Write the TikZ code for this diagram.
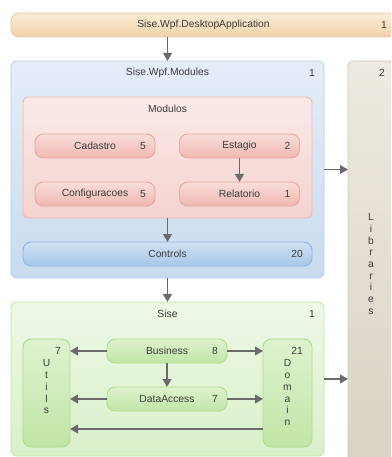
\documentclass[tikz,border=0pt]{standalone}
\usepackage{fontspec}
\setmainfont{Liberation Sans}
\usepackage{xcolor}
\usetikzlibrary{positioning, arrows.meta}

\definecolor{texto}{HTML}{3C3C3C}
\definecolor{seta}{HTML}{6A6A6A}
\definecolor{laranjaA}{HTML}{FBECD8}   \definecolor{laranjaB}{HTML}{F1D2A8}   \definecolor{laranjaL}{HTML}{E9C9A0}
\definecolor{azulA}{HTML}{E5EDF7}      \definecolor{azulB}{HTML}{C8DBEE}      \definecolor{azulL}{HTML}{B7CFEA}
\definecolor{azulfA}{HTML}{D0E1F3}     \definecolor{azulfB}{HTML}{A5C7E8}     \definecolor{azulfL}{HTML}{8EB5DF}
\definecolor{rosaA}{HTML}{FBEAE8}      \definecolor{rosaB}{HTML}{F4D3CF}      \definecolor{rosaL}{HTML}{EFB9B3}
\definecolor{rosafA}{HTML}{F9DDD9}     \definecolor{rosafB}{HTML}{EFB8B1}     \definecolor{rosafL}{HTML}{E8A79F}
\definecolor{verdeA}{HTML}{EEF8E7}     \definecolor{verdeB}{HTML}{D9F0C9}     \definecolor{verdeL}{HTML}{BEE5A6}
\definecolor{verdefA}{HTML}{DEF2CF}    \definecolor{verdefB}{HTML}{C0E6A6}    \definecolor{verdefL}{HTML}{ADDD8D}
\definecolor{begeA}{HTML}{EEEAE1}      \definecolor{begeB}{HTML}{DAD2C2}      \definecolor{begeL}{HTML}{D2C9B6}
\newcommand{\fonteDiag}{\fontsize{8.8}{10}\selectfont}

\tikzset{
    caixa/.style      = {draw, line width=0.8pt, inner sep=0pt, outer sep=0pt,
                         text=texto, font=\fonteDiag, align=center},
    grupo/.style      = {caixa, rounded corners=5pt},
    item/.style       = {caixa, rounded corners=7pt, minimum width=3.6cm,
                         minimum height=0.72cm},
    cores/.style      = {top color=#1A, bottom color=#1B, draw=#1L},
    laranja/.style    = {cores=laranja},
    azul/.style       = {cores=azul},
    azulforte/.style  = {cores=azulf},
    rosa/.style       = {cores=rosa},
    rosaforte/.style  = {cores=rosaf},
    verde/.style      = {cores=verde},
    verdeforte/.style = {cores=verdef},
    bege/.style       = {cores=bege},
    rotulo/.style     = {inner sep=0pt, text=texto, font=\fonteDiag, align=center},
    numero/.style     = {label={[rotulo, anchor=east, xshift=-0.27cm]east:#1}},
    canto/.style      = {label={[rotulo, anchor=east, xshift=-0.27cm, yshift=-0.36cm]north east:#1}},
    titulo/.style     = {label={[rotulo, anchor=center, yshift=-0.36cm]north:#1}},
    vertical/.style   = {label={[rotulo, anchor=north, yshift=-0.62cm]north:{#1}}},
    link/.style       = {-{Triangle[length=2.4mm, width=2.6mm]}, line width=1.6pt, draw=seta}
}

\begin{document}
\begin{tikzpicture}[x=0.03cm, y=-0.03cm]
    \useasboundingbox (0,0) rectangle (391,457);
    \clip (0,0) rectangle (391,457);

    \node[item, laranja, minimum width=11.55cm, numero=1] (app) at (203.5,25)
        {Sise.Wpf.DesktopApplication};

    % Sise.Wpf.Modules
    \node[grupo, azul, minimum width=9.39cm, minimum height=6.51cm,
          titulo=Sise.Wpf.Modules, canto=1] (mods) at (167.5,169.5) {};
    \node[grupo, rosa, minimum width=8.67cm, minimum height=3.63cm,
          titulo=Modulos] (modulos) at (167.5,157.5) {};
    \node[item, rosaforte, numero=5] (cad) at (95,146)    {Cadastro};
    \node[item, rosaforte, numero=2] (est) at (239.5,146) {Estagio};
    \node[item, rosaforte, numero=5] (cfg) at (95,194)    {Configuracoes};
    \node[item, rosaforte, numero=1] (rel) at (239.5,194) {Relatorio};
    \node[item, azulforte, minimum width=8.67cm, numero=20] (ctrl) at (167.5,254) {Controls};

    % Sise
    \node[grupo, verde, minimum width=9.39cm, minimum height=4.62cm,
          titulo=Sise, canto=1] (sise) at (167.5,379) {};
    \node[grupo, verdeforte, rounded corners=7pt, minimum width=1.41cm, minimum height=3.24cm,
          canto=7, vertical={U\\t\\i\\l\\s}] (utils) at (46.5,393) {};
    \node[grupo, verdeforte, rounded corners=7pt, minimum width=1.47cm, minimum height=3.24cm,
          canto=21, vertical={D\\o\\m\\a\\i\\n}] (domain) at (287.5,393) {};
    \node[item, verdeforte, numero=8] (bus) at (167,351) {Business};
    \node[item, verdeforte, numero=7] (dal) at (167,399) {DataAccess};

    \node[grupo, bege, minimum width=1.38cm, minimum height=12.18cm, canto=2] (libs)
        at (371,264) {L\\i\\b\\r\\a\\r\\i\\e\\s};

    \draw[link] (app.south -| mods.north) -- (mods.north);
    \draw[link] (est) -- (rel);
    \draw[link] (modulos) -- (ctrl);
    \draw[link] (mods) -- (sise);
    \draw[link] (mods.east) -- (mods.east -| libs.west);
    \draw[link] (sise.east) -- (sise.east -| libs.west);

    \draw[link] (bus) -- (utils.east |- bus);
    \draw[link] (bus) -- (domain.west |- bus);
    \draw[link] (bus) -- (dal);
    \draw[link] (dal) -- (utils.east |- dal);
    \draw[link] (dal) -- (domain.west |- dal);
    \coordinate (volta) at (287.5,429);
    \draw[link] (volta -| domain.west) -- (volta -| utils.east);
\end{tikzpicture}
\end{document}
